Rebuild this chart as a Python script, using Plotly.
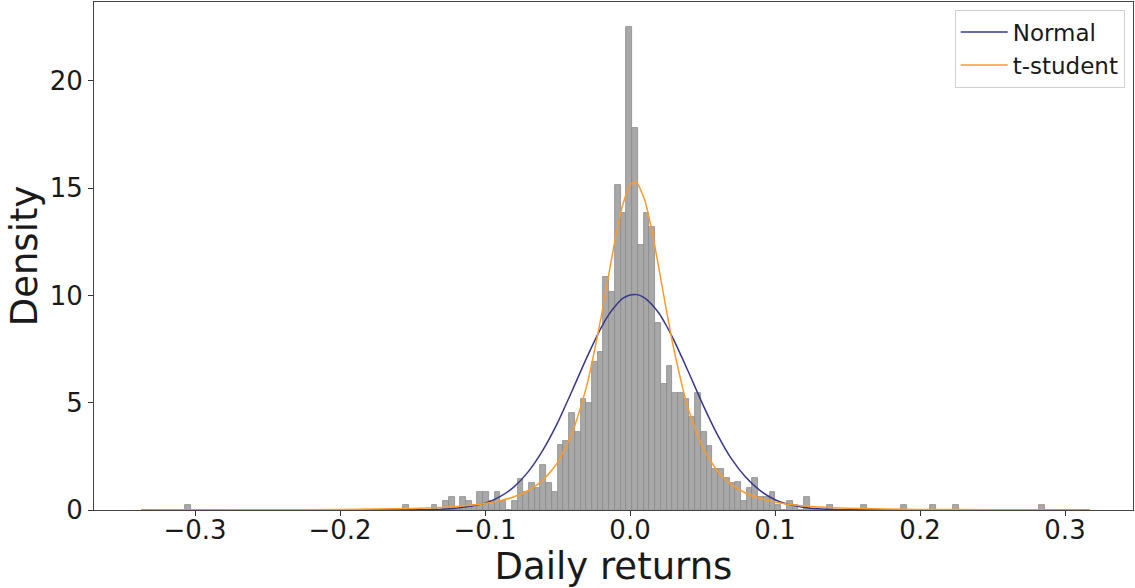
import plotly.graph_objects as go

# ---------------- data ----------------
bin_start = -0.3068
bin_width = 0.003952
n_bins = 150
# non-zero histogram densities, by bin index
hist_nonzero = {
    0: 0.21, 38: 0.21, 43: 0.21, 45: 0.41, 46: 0.62, 48: 0.62, 49: 0.41,
    50: 0.21, 51: 0.83, 52: 0.83, 53: 0.41, 54: 0.83, 55: 0.41, 57: 0.41,
    58: 1.45, 59: 0.83, 60: 1.24, 61: 1.03, 62: 2.1, 63: 1.24, 64: 0.83,
    65: 3.03, 66: 3.23, 67: 4.54, 68: 3.65, 69: 5.16, 70: 4.97, 71: 6.92,
    72: 7.35, 73: 10.85, 74: 10.15, 75: 15.15, 76: 13.86, 77: 22.5,
    78: 17.8, 79: 12.35, 80: 13.86, 81: 13.21, 82: 8.7, 83: 5.86, 84: 6.73,
    85: 5.44, 86: 5.44, 87: 5.17, 88: 4.35, 89: 5.44, 90: 3.65, 91: 3.0,
    92: 1.93, 93: 1.93, 94: 1.48, 95: 1.27, 96: 1.29, 97: 0.42, 98: 1.04,
    99: 1.48, 100: 0.62, 101: 0.62, 102: 0.85, 103: 0.21, 105: 0.42,
    106: 0.21, 108: 0.62, 112: 0.21, 118: 0.21, 125: 0.21, 130: 0.21,
    134: 0.21, 149: 0.21,
}
density = [hist_nonzero.get(i, 0.0) for i in range(n_bins)]

curve_x = [-0.337, -0.25, -0.2, -0.15, -0.14, -0.13, -0.12, -0.11, -0.10,
           -0.09, -0.08, -0.07, -0.06, -0.05, -0.04, -0.03, -0.02, -0.015,
           -0.01, -0.005, 0.0, 0.003, 0.005, 0.01, 0.015, 0.02, 0.025, 0.03,
           0.04, 0.05, 0.06, 0.07, 0.08, 0.09, 0.10, 0.11, 0.12, 0.13, 0.14,
           0.15, 0.2, 0.25, 0.317]
normal_y = [0.0, 0.0, 0.0, 0.006, 0.014, 0.035, 0.079, 0.17, 0.32,
            0.61, 1.08, 1.80, 2.80, 4.06, 5.55, 7.08, 8.49, 9.07,
            9.52, 9.86, 10.02, 10.05, 10.04, 9.89, 9.58, 9.17, 8.60, 7.95,
            6.48, 4.95, 3.55, 2.38, 1.51, 0.89, 0.48, 0.25, 0.12, 0.056, 0.024,
            0.01, 0.0, 0.0, 0.0]
tstudent_y = [0.003, 0.01, 0.025, 0.072, 0.093, 0.121, 0.161, 0.217, 0.30,
              0.425, 0.615, 0.92, 1.40, 2.21, 3.57, 5.75, 8.97, 10.85,
              12.7, 14.23, 15.14, 15.3, 15.23, 14.47, 13.04, 11.23, 9.34, 7.57,
              4.76, 2.95, 1.84, 1.18, 0.78, 0.53, 0.37, 0.26, 0.19, 0.143, 0.109,
              0.084, 0.028, 0.011, 0.0045]

x_ticks = [-0.3, -0.2, -0.1, 0.0, 0.1, 0.2, 0.3]
x_tick_labels = ["\u22120.3", "\u22120.2", "\u22120.1", "0.0", "0.1", "0.2", "0.3"]
y_ticks = [0, 5, 10, 15, 20]

# ---------------- figure ----------------
centers = [bin_start + (i + 0.5) * bin_width for i in range(n_bins)]

fig = go.Figure()
fig.add_trace(go.Bar(
    x=centers, y=density, width=bin_width,
    marker=dict(color="#a8a8a8", line=dict(color="#8c8c8c", width=0.8)),
    showlegend=False, hoverinfo="skip",
))
fig.add_trace(go.Scatter(
    x=curve_x, y=normal_y, mode="lines", name="Normal",
    line=dict(color="#37388a", width=1.5, shape="spline", smoothing=0.6),
))
fig.add_trace(go.Scatter(
    x=curve_x, y=tstudent_y, mode="lines", name="t-student",
    line=dict(color="#fd9a28", width=1.5, shape="spline", smoothing=0.6),
))

font_family = "DejaVu Sans"
fig.update_layout(
    width=1135, height=588,
    margin=dict(l=94, r=2, t=2, b=78),
    paper_bgcolor="white", plot_bgcolor="white",
    bargap=0,
    font=dict(family=font_family, color="#1a1a1a"),
    legend=dict(
        x=0.992, y=0.985, xanchor="right", yanchor="top",
        bgcolor="rgba(255,255,255,0.8)", bordercolor="#d0d0d0", borderwidth=1,
        font=dict(size=23, family=font_family),
        itemwidth=47, tracegroupgap=4,
    ),
    xaxis=dict(
        range=[-0.3697, 0.3469],
        tickvals=x_ticks, ticktext=x_tick_labels,
        ticks="outside", ticklen=5, tickwidth=1, tickcolor="#333",
        tickfont=dict(size=26, family=font_family),
        ticklabelstandoff=-8,
        showgrid=False, zeroline=False,
        showline=True, linecolor="#444", linewidth=1, mirror=True,
        title=dict(text="Daily returns", font=dict(size=37, family=font_family), standoff=2),
    ),
    yaxis=dict(
        range=[0, 23.68],
        tickvals=y_ticks,
        ticks="outside", ticklen=5, tickwidth=1, tickcolor="#333",
        tickfont=dict(size=26, family=font_family),
        showgrid=False, zeroline=False,
        showline=True, linecolor="#444", linewidth=1, mirror=True,
        title=dict(text="Density", font=dict(size=37, family=font_family), standoff=0),
    ),
)

fig.write_html(
    "out.html",
    config={"displayModeBar": False},
    post_script="document.body.style.margin='0';document.body.style.overflow='hidden';",
)
